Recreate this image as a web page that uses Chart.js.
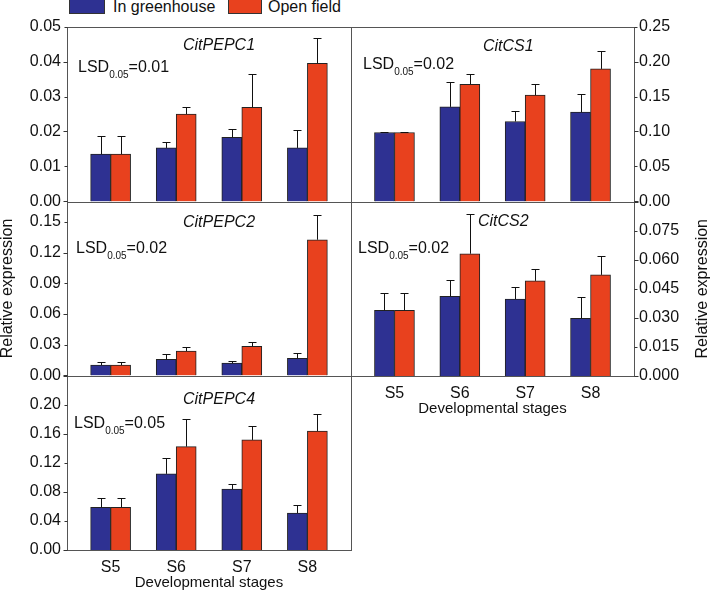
<!DOCTYPE html>
<html lang="en">
<head>
<meta charset="UTF-8">
<title>Relative expression by developmental stage</title>
<script src="https://cdn.jsdelivr.net/npm/chart.js"></script>
<style>
  body { margin: 0; background: #fff; }
  #wrap { position: relative; width: 711px; height: 593px; overflow: hidden; font-family: "Liberation Sans", Arial, sans-serif; }
  #wrap canvas { position: absolute; }
  .key { position: absolute; top: -2px; height: 16px; border: 1px solid #333; box-sizing: border-box; }
  .key-label { position: absolute; top: -1px; font-size: 16px; line-height: 16px; color: #111; white-space: nowrap; }
</style>
</head>
<body>
<div id="wrap">
  <div class="key" style="left:69px;width:36px;background:#2E3192"></div>
  <span class="key-label" style="left:113px">In greenhouse</span>
  <div class="key" style="left:228px;width:34px;background:#E8411E"></div>
  <span class="key-label" style="left:268px">Open field</span>

  <canvas id="pepc1" width="360" height="200" style="left:0;top:10px"></canvas>
  <canvas id="pepc2" width="360" height="200" style="left:0;top:190px"></canvas>
  <canvas id="pepc4" width="360" height="230" style="left:0;top:360px"></canvas>
  <canvas id="cs1" width="362" height="200" style="left:349px;top:10px"></canvas>
  <canvas id="cs2" width="362" height="230" style="left:349px;top:190px"></canvas>
</div>

<script>
// stages on the x axis
const stages = ['S5', 'S6', 'S7', 'S8'];

// CitPEPC1
const pepc1House = [0.0135, 0.0153, 0.0183, 0.0153];
const pepc1HouseErr = [0.0051, 0.0018, 0.0024, 0.0051];
const pepc1Field = [0.0135, 0.0250, 0.0269, 0.0395];
const pepc1FieldErr = [0.0051, 0.0021, 0.0095, 0.0071];

// CitPEPC2
const pepc2House = [0.0101, 0.0157, 0.0120, 0.0166];
const pepc2HouseErr = [0.0029, 0.0055, 0.0023, 0.0056];
const pepc2Field = [0.0101, 0.0238, 0.0284, 0.1327];
const pepc2FieldErr = [0.0029, 0.0042, 0.0045, 0.0238];

// CitPEPC4
const pepc4House = [0.0586, 0.1048, 0.0838, 0.0508];
const pepc4HouseErr = [0.0123, 0.0215, 0.0064, 0.0110];
const pepc4Field = [0.0586, 0.1423, 0.1515, 0.1638];
const pepc4FieldErr = [0.0123, 0.0376, 0.0188, 0.0238];

// CitCS1
const cs1House = [0.0986, 0.1352, 0.1143, 0.1276];
const cs1HouseErr = [0.0008, 0.0362, 0.0143, 0.0253];
const cs1Field = [0.0986, 0.1676, 0.1519, 0.1895];
const cs1FieldErr = [0.0008, 0.0143, 0.0167, 0.0253];

// CitCS2
const cs2House = [0.0339, 0.0411, 0.0397, 0.0297];
const cs2HouseErr = [0.0091, 0.0083, 0.0062, 0.0109];
const cs2Field = [0.0339, 0.0631, 0.0491, 0.0522];
const cs2FieldErr = [0.0091, 0.0206, 0.0060, 0.0095];

const BLUE = '#2E3192';
const RED = '#E8411E';
const INK = '#111';

Chart.defaults.font.family = '"Liberation Sans", Arial, sans-serif';
Chart.defaults.color = INK;

// frame, minor/major ticks, error bars and the panel texts
const decor = {
  id: 'decor',
  afterDatasetsDraw(chart, args, o) {
    const ctx = chart.ctx;
    const a = chart.chartArea;
    const y = chart.scales.y;
    ctx.save();

    ctx.strokeStyle = INK;
    ctx.lineWidth = 1;
    chart.data.datasets.forEach((ds, di) => {
      chart.getDatasetMeta(di).data.forEach((bar, i) => {
        const top = Math.round(y.getPixelForValue(ds.data[i].y + ds.err[i])) + 0.5;
        const x = Math.round(bar.x) + 0.5;
        ctx.beginPath();
        ctx.moveTo(x, bar.y);
        ctx.lineTo(x, top);
        ctx.moveTo(x - 4, top);
        ctx.lineTo(x + 4, top);
        ctx.stroke();
      });
    });

    // frame
    ctx.strokeStyle = '#555';
    ctx.strokeRect(Math.round(a.left) + 0.5, Math.round(a.top) + 0.5,
      Math.round(a.right - a.left), Math.round(a.bottom - a.top));

    // y ticks, outward
    ctx.strokeStyle = '#333';
    const edge = o.right ? Math.round(a.right) + 0.5 : Math.round(a.left) + 0.5;
    const dir = o.right ? 1 : -1;
    y.ticks.forEach((t, i) => {
      const py = Math.round(y.getPixelForValue(t.value)) + 0.5;
      const len = i % 2 === 0 ? 4 : 3;
      ctx.beginPath();
      ctx.moveTo(edge, py);
      ctx.lineTo(edge + dir * len, py);
      ctx.stroke();
    });

    // gene name
    ctx.fillStyle = INK;
    ctx.textBaseline = 'alphabetic';
    ctx.textAlign = 'left';
    ctx.font = 'italic 16px "Liberation Sans", Arial, sans-serif';
    ctx.fillText(o.gene, a.left + o.geneX, a.top + o.geneY);

    // LSD label with subscript
    let x = a.left + o.lsdX;
    const base = a.top + o.lsdY;
    ctx.font = '16px "Liberation Sans", Arial, sans-serif';
    ctx.fillText('LSD', x, base);
    x += ctx.measureText('LSD').width;
    ctx.font = '10px "Liberation Sans", Arial, sans-serif';
    ctx.fillText('0.05', x, base + 6);
    x += ctx.measureText('0.05').width;
    ctx.font = '16px "Liberation Sans", Arial, sans-serif';
    ctx.fillText('=' + o.lsd, x, base);

    // right-hand axis title, reading upward
    if (o.rightTitle) {
      ctx.translate(a.right + 77 - 8, (a.top + a.bottom) / 2);
      ctx.rotate(-Math.PI / 2);
      ctx.textAlign = 'center';
      ctx.textBaseline = 'middle';
      ctx.font = '16px "Liberation Sans", Arial, sans-serif';
      ctx.fillText(o.rightTitle, 0, 0);
    }
    ctx.restore();
  }
};

function panelConfig(p) {
  const right = p.side === 'right';
  const axisW = right ? 77 : 67;
  const toPts = arr => arr.map((v, i) => ({ x: i, y: v }));
  return {
    type: 'bar',
    data: {
      datasets: [
        { label: 'In greenhouse', data: toPts(p.house), err: p.houseErr,
          backgroundColor: BLUE, borderColor: '#222', borderWidth: 1, barThickness: 20 },
        { label: 'Open field', data: toPts(p.field), err: p.fieldErr,
          backgroundColor: RED, borderColor: '#222', borderWidth: 1, barThickness: 20 }
      ]
    },
    options: {
      responsive: false,
      maintainAspectRatio: false,
      animation: false,
      layout: { padding: { top: 4, bottom: 4, left: 4, right: 4 } },
      plugins: {
        legend: { display: false },
        tooltip: { enabled: false },
        decor: {
          right: right, gene: p.gene, lsd: p.lsd,
          geneX: p.geneX, geneY: p.geneY, lsdX: p.lsdX, lsdY: p.lsdY,
          rightTitle: p.rightTitle
        }
      },
      scales: {
        x: {
          type: 'linear',
          min: -0.665,
          max: 3.665,
          offset: false,
          display: p.showX,
          grid: { display: false, drawTicks: false },
          border: { display: false },
          afterBuildTicks: s => { s.ticks = stages.map((_, i) => ({ value: i })); },
          afterFit: s => { if (p.showX) s.height = 42; },
          ticks: {
            padding: 8, autoSkip: false, maxRotation: 0,
            font: { size: 16 },
            callback: v => stages[v]
          },
          title: {
            display: p.showX, text: 'Developmental stages',
            padding: 0, font: { size: 15 }
          }
        },
        y: {
          position: p.side,
          min: 0,
          max: p.max,
          grid: { display: false, drawTicks: false },
          border: { display: false },
          afterBuildTicks: s => {
            const half = p.step / 2;
            const ticks = [];
            for (let k = 0; k * half <= p.max + 1e-9; k++) ticks.push({ value: +(k * half).toFixed(6) });
            s.ticks = ticks;
          },
          afterFit: s => { s.width = axisW; },
          ticks: {
            padding: right ? 5 : 6,
            font: { size: 16 },
            callback: (v, i) => {
              if (i % 2 !== 0) return '';
              if (p.hideTop && v > p.max - 1e-9) return '';
              return v.toFixed(p.digits);
            }
          },
          title: {
            display: !!p.leftTitle, text: p.leftTitle || '',
            padding: 0, font: { size: 16, lineHeight: 1 }
          }
        }
      }
    },
    plugins: [decor]
  };
}

// build once, see where the plot area landed, then move/resize the canvas so the
// plot area sits on the wanted box and build again
function makePanel(id, p) {
  const canvas = document.getElementById(id);
  let chart = new Chart(canvas, panelConfig(p));
  const a = chart.chartArea;
  const left = parseFloat(canvas.style.left) + (p.box[0] - (parseFloat(canvas.style.left) + a.left));
  const top = parseFloat(canvas.style.top) + (p.box[1] - (parseFloat(canvas.style.top) + a.top));
  const w = Math.round(canvas.width + (p.box[2] - p.box[0]) - (a.right - a.left));
  const h = Math.round(canvas.height + (p.box[3] - p.box[1]) - (a.bottom - a.top));
  chart.destroy();
  canvas.width = w;
  canvas.height = h;
  canvas.style.left = Math.round(left) + 'px';
  canvas.style.top = Math.round(top) + 'px';
  chart = new Chart(canvas, panelConfig(p));
}

makePanel('pepc1', {
  box: [67, 27, 351, 202],
  side: 'left', max: 0.05, step: 0.01, digits: 2, showX: false,
  house: pepc1House, houseErr: pepc1HouseErr, field: pepc1Field, fieldErr: pepc1FieldErr,
  gene: 'CitPEPC1', lsd: '0.01', geneX: 116, geneY: 23, lsdX: 11, lsdY: 45
});
makePanel('pepc2', {
  box: [67, 202, 351, 376],
  side: 'left', max: 0.17, step: 0.03, digits: 2, showX: false,
  house: pepc2House, houseErr: pepc2HouseErr, field: pepc2Field, fieldErr: pepc2FieldErr,
  gene: 'CitPEPC2', lsd: '0.02', geneX: 116, geneY: 25, lsdX: 9, lsdY: 51,
  leftTitle: 'Relative expression'
});
makePanel('pepc4', {
  box: [67, 376, 351, 550],
  side: 'left', max: 0.24, step: 0.04, digits: 2, showX: true, hideTop: true,
  house: pepc4House, houseErr: pepc4HouseErr, field: pepc4Field, fieldErr: pepc4FieldErr,
  gene: 'CitPEPC4', lsd: '0.05', geneX: 116, geneY: 28, lsdX: 7, lsdY: 52
});
makePanel('cs1', {
  box: [351, 27, 634, 202],
  side: 'right', max: 0.25, step: 0.05, digits: 2, showX: false,
  house: cs1House, houseErr: cs1HouseErr, field: cs1Field, fieldErr: cs1FieldErr,
  gene: 'CitCS1', lsd: '0.02', geneX: 132, geneY: 24, lsdX: 12, lsdY: 42
});
makePanel('cs2', {
  box: [351, 202, 634, 376],
  side: 'right', max: 0.09, step: 0.015, digits: 3, showX: true, hideTop: true,
  house: cs2House, houseErr: cs2HouseErr, field: cs2Field, fieldErr: cs2FieldErr,
  gene: 'CitCS2', lsd: '0.02', geneX: 127, geneY: 24, lsdX: 7, lsdY: 51,
  rightTitle: 'Relative expression'
});
</script>
</body>
</html>
